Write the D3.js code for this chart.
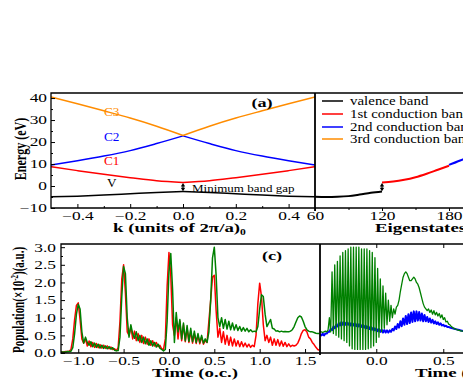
<!DOCTYPE html>
<html>
<head>
<meta charset="utf-8">
<script src="https://cdn.jsdelivr.net/npm/d3@7"></script>
<style>
html, body { margin: 0; padding: 0; background: #fff; }
svg { display: block; font-family: "Liberation Serif", "Times New Roman", serif; }
</style>
</head>
<body>
<div id="chart"></div>
<script>
// ---- panel (a): band structure vs k ----
const kGrid = [-0.5, -0.4, -0.3, -0.2, -0.1, 0, 0.1, 0.2, 0.3, 0.4, 0.5];
const valenceBand = [-4.9, -4.6, -4.1, -3.5, -2.9, -2.5, -2.9, -3.5, -4.1, -4.6, -4.9];
const cond1Band = [8.8, 7.0, 5.3, 3.8, 2.4, 1.6, 2.4, 3.8, 5.3, 7.0, 8.8];
const cond2Band = [9.6, 11.5, 13.6, 16.1, 19.3, 22.8, 19.3, 16.1, 13.6, 11.5, 9.6];
const cond3Band = [40.5, 37.4, 34.2, 30.9, 27.2, 23.0, 27.2, 30.9, 34.2, 37.4, 40.5];

// ---- sorted eigenvalues vs eigenstate index ----
const eigIdxV = [60, 70, 80, 90, 100, 110, 120];
const eigValV = [-4.9, -5.0, -4.9, -4.6, -3.9, -3.1, -2.5];
const eigIdxC1 = [120, 130, 140, 150, 160, 170, 180];
const eigValC1 = [1.6, 2.0, 2.8, 4.0, 5.6, 7.4, 9.2];
const eigIdxC2 = [180, 190, 200];
const eigValC2 = [9.6, 11.6, 13.8];

const energyTicks = [-10, 0, 10, 20, 30, 40];
const kTicks = [-0.4, -0.2, 0.0, 0.2, 0.4];
const eigTicks = [60, 120, 180];

const legendLabels = ["valence band", "1st conduction band", "2nd conduction band", "3rd conduction band"];
const bandColors = ["#000000", "#ff0000", "#0000ff", "#ff8c00"];

// ---- panel (c): populations vs time ----
const tLeftStart = -1.2, tLeftStep = 0.02;
const popRedLeft = [
  0.03, 0.03, 0.03, 0.04, 0.04, 0.05, 0.1, 0.4, 0.95, 1.35,
  1.42, 0.95, 0.4, 0.28, 0.4, 0.2, 0.34, 0.18, 0.3, 0.16,
  0.27, 0.15, 0.24, 0.14, 0.22, 0.13, 0.2, 0.12, 0.17, 0.1,
  0.12, 0.07, 0.15, 0.9, 2.1, 2.5, 1.7, 0.6, 0.5, 0.75,
  0.4, 0.62, 0.35, 0.55, 0.3, 0.5, 0.27, 0.45, 0.25, 0.4,
  0.22, 0.35, 0.2, 0.3, 0.18, 0.22, 0.12, 0.1, 0.4, 1.9,
  2.85, 2.2, 0.8, 0.5, 1.0, 0.4, 0.9, 0.35, 0.8, 0.32,
  0.7, 0.3, 0.62, 0.28, 0.55, 0.27, 0.5, 0.26, 0.45, 0.25,
  0.35, 0.3, 0.9, 1.5, 2.15, 2.2, 1.2, 0.45, 0.7, 0.3,
  0.6, 0.25, 0.5, 0.22, 0.45, 0.2, 0.4, 0.2, 0.35, 0.18,
  0.32, 0.18, 0.28, 0.17, 0.25, 0.16, 0.22, 0.18, 0.5, 1.4,
  1.98, 1.6, 0.8, 0.35, 0.5, 0.3, 0.45, 0.22, 0.4, 0.22,
  0.38, 0.2, 0.34, 0.19, 0.3, 0.18, 0.26, 0.18, 0.22, 0.2,
  0.22, 0.28, 0.4, 0.55, 0.64, 0.66, 0.6, 0.45, 0.4, 0.3,
  0.24, 0.16, 0.1, 0.08
];
const popGreenLeft = [
  0.03, 0.03, 0.03, 0.03, 0.04, 0.04, 0.05, 0.15, 0.55, 1.1,
  1.38, 1.25, 0.6, 0.28, 0.45, 0.3, 0.22, 0.32, 0.18, 0.28,
  0.16, 0.25, 0.14, 0.22, 0.13, 0.2, 0.12, 0.18, 0.11, 0.15,
  0.08, 0.06, 0.07, 0.45, 1.6, 2.45, 2.25, 1.0, 0.45, 0.8,
  0.55, 0.42, 0.6, 0.35, 0.5, 0.3, 0.45, 0.26, 0.4, 0.22,
  0.35, 0.2, 0.3, 0.17, 0.25, 0.14, 0.1, 0.06, 0.1, 0.9,
  2.3, 2.82, 1.8, 0.3, 1.15, 0.6, 0.95, 0.4, 0.85, 0.35,
  0.78, 0.33, 0.7, 0.32, 0.62, 0.3, 0.55, 0.3, 0.5, 0.28,
  0.4, 0.3, 0.6, 1.5, 2.7, 3.0, 2.2, 1.0, 0.75, 1.0,
  0.7, 0.95, 0.68, 0.9, 0.66, 0.85, 0.65, 0.8, 0.64, 0.75,
  0.62, 0.72, 0.62, 0.7, 0.6, 0.66, 0.6, 0.62, 0.6, 0.75,
  1.25, 1.65, 1.6, 1.1, 0.75, 0.85, 0.95, 0.7, 0.68, 0.62,
  0.63, 0.6, 0.62, 0.6, 0.61, 0.6, 0.6, 0.62, 0.66, 0.75,
  0.88, 1.0, 1.05, 1.02, 0.9, 0.75, 0.66, 0.62, 0.6, 0.6,
  0.58, 0.56, 0.55, 0.55
];

const tRightStart = -0.42, tRightStep = 0.01;
const popGreenRight = [
  0.6, 0.6, 0.58, 0.6, 0.62, 0.6, 0.65,
  1.0, 0.6, 2.3, 0.55, 2.5, 0.5, 2.6, 0.45, 2.75, 0.4,
  2.85, 0.35, 2.9, 0.3, 2.95, 0.2, 3.0, 0.12, 3.0, 0.1,
  3.0, 0.1, 3.0, 0.1, 2.95, 0.1, 2.95, 0.1, 2.95, 0.12,
  2.9, 0.15, 2.85, 0.2, 2.7,
  0.3, 2.4, 0.45, 2.1, 0.6, 1.9, 0.7, 1.7, 0.8, 1.5, 0.9, 1.35, 1.0, 1.25, 1.1, 1.3,
  1.35, 1.5, 1.75, 1.95, 2.15, 2.25, 2.3, 2.25, 2.15, 2.05, 2.05, 2.1,
  2.15, 2.1, 2.0, 1.95, 1.85, 1.7, 1.55, 1.4, 1.3, 1.25, 1.2,
  1.25, 1.15, 1.22, 1.1, 1.2, 1.08, 1.15, 1.05, 1.12, 1.0, 1.08, 0.95, 1.0, 0.88,
  0.9, 0.82, 0.8, 0.75, 0.72, 0.7, 0.68, 0.66, 0.65, 0.64, 0.63, 0.62, 0.62, 0.61
];
const popBlueRight = [
  0.52, 0.5, 0.55, 0.5, 0.55, 0.55, 0.6, 0.6, 0.68, 0.65,
  0.75, 0.7, 0.8, 0.75, 0.85, 0.78, 0.88, 0.8, 0.88, 0.8,
  0.87, 0.8, 0.86, 0.78, 0.85, 0.78, 0.84, 0.76, 0.83, 0.75,
  0.82, 0.74, 0.8, 0.72, 0.78, 0.7, 0.76, 0.68, 0.74, 0.66,
  0.72, 0.64, 0.7, 0.62, 0.68, 0.6, 0.66, 0.58, 0.65, 0.58,
  0.64, 0.58, 0.64, 0.6, 0.68, 0.64, 0.75, 0.68, 0.82, 0.72,
  0.9, 0.76, 0.98, 0.8, 1.05, 0.82, 1.1, 0.85, 1.15, 0.88,
  1.18, 0.9, 1.18, 0.92, 1.16, 0.92, 1.12, 0.9, 1.08, 0.9,
  1.02, 0.88, 0.98, 0.86, 0.94, 0.84, 0.9, 0.82, 0.87, 0.8,
  0.84, 0.78, 0.8, 0.76, 0.77, 0.74, 0.74, 0.72, 0.71, 0.7,
  0.69, 0.68, 0.67, 0.66, 0.65, 0.64, 0.63, 0.62, 0.62
];
const popTicks = [0, 0.5, 1.0, 1.5, 2.0, 2.5, 3.0];
const timeTicksLeft = [-1.0, -0.5, 0.0, 0.5, 1.0, 1.5];
const timeTicksRight = [0.0, 0.5];

const W = 463, H = 382;
const SX = 1.45; // the original figure is stretched sideways
const svg = d3.select("#chart").append("svg").attr("width", W).attr("height", H);
svg.append("rect").attr("width", W).attr("height", H).attr("fill", "#fff");

const defs = svg.append("defs");
function clip(id, x, y, w, h) {
    defs.append("clipPath").attr("id", id).append("rect")
        .attr("x", x).attr("y", y).attr("width", w).attr("height", h);
    return `url(#${id})`;
}

// text stretched horizontally around its anchor point
function label(x, y, txt, size, opts = {}) {
    return svg.append("text")
        .attr("transform", `translate(${x},${y}) scale(${opts.sx || SX},1)`)
        .attr("dy", "0.35em")
        .attr("text-anchor", opts.anchor || "start")
        .attr("fill", opts.color || "#000")
        .style("font-size", size + "px")
        .style("font-weight", opts.bold ? "bold" : "normal")
        .text(txt);
}

// ---------- top panel ----------
const topT = 93, topB = 208, topL = 51, split = 315;
const kScale = d3.scaleLinear().domain([-0.5, 0.5]).range([topL, split]);
const eigScale = d3.scaleLinear().domain([60, 240]).range([split, split + 180 * 67 / 60]);
const eScale = d3.scaleLinear().domain([-10, 42.3]).range([topB, topT]);

const clipA = clip("clipA", topL, topT, split - topL, topB - topT);
const clipB = clip("clipB", split, topT, W - split, topB - topT);

const kLine = d3.line().x(d => kScale(d[0])).y(d => eScale(d[1])).curve(d3.curveMonotoneX);
const eigLine = d3.line().x(d => eigScale(d[0])).y(d => eScale(d[1])).curve(d3.curveMonotoneX);

const gA = svg.append("g").attr("clip-path", clipA);
const bands = [valenceBand, cond1Band, cond2Band, cond3Band];
bands.forEach((band, bi) => {
    const pts = kGrid.map((k, i) => [k, band[i]]);
    // draw the two halves so crossings at k = 0 stay sharp
    [pts.filter(p => p[0] <= 0), pts.filter(p => p[0] >= 0)].forEach(half => {
        gA.append("path").datum(half)
            .attr("d", kLine)
            .attr("fill", "none")
            .attr("stroke", bandColors[bi])
            .attr("stroke-width", 1.5);
    });
});

const gB = svg.append("g").attr("clip-path", clipB);
[[eigIdxV, eigValV, 0], [eigIdxC1, eigValC1, 1], [eigIdxC2, eigValC2, 2]].forEach(([idx, val, ci]) => {
    gB.append("path").datum(idx.map((x, i) => [x, val[i]]))
        .attr("d", eigLine)
        .attr("fill", "none")
        .attr("stroke", bandColors[ci])
        .attr("stroke-width", 2);
});

function styleAxis(g) {
    g.select(".domain").remove();
    g.attr("font-family", null);
    g.selectAll("line").attr("stroke", "#000").attr("stroke-width", 1);
    g.selectAll("text").attr("fill", "#000").attr("font-size", 12)
        .attr("transform", `scale(${SX},1)`);
}
function leftLabels(g, gap) {
    g.selectAll("text").attr("x", -gap / SX);
}

svg.append("g").attr("transform", `translate(${topL},0)`)
    .call(d3.axisLeft(eScale).tickValues(energyTicks).tickSize(-4).tickFormat(d3.format("d")))
    .call(styleAxis).call(leftLabels, 4);
svg.append("g").attr("transform", `translate(${topL},0)`)
    .call(d3.axisLeft(eScale).tickValues([-5, 5, 15, 25, 35]).tickSize(-2).tickFormat(""))
    .call(styleAxis);

svg.append("g").attr("transform", `translate(0,${topB})`)
    .call(d3.axisBottom(kScale).tickValues(kTicks).tickSize(-4).tickPadding(3).tickFormat(d3.format(".1f")))
    .call(styleAxis);
svg.append("g").attr("transform", `translate(0,${topB})`)
    .call(d3.axisBottom(kScale).tickValues([-0.3, -0.1, 0.1, 0.3]).tickSize(-2).tickFormat(""))
    .call(styleAxis);
svg.append("g").attr("transform", `translate(0,${topB})`)
    .call(d3.axisBottom(eigScale).tickValues(eigTicks).tickSize(3).tickPadding(0).tickFormat(d3.format("d")))
    .call(styleAxis);
svg.append("g").attr("transform", `translate(0,${topB})`)
    .call(d3.axisBottom(eigScale).tickValues([90, 150, 210]).tickSize(2).tickFormat(""))
    .call(styleAxis);

// frame of top panel
const frame = svg.append("g").attr("fill", "none").attr("stroke", "#000");
frame.append("path").attr("d", `M${W + 5},${topT}H${topL}V${topB}H${W + 5}`).attr("stroke-width", 1.3);
frame.append("line").attr("x1", split).attr("x2", split).attr("y1", topT).attr("y2", topB + 3).attr("stroke-width", 1.8);

// band labels
const bandLabels = [["C3", 33.5, 3], ["C2", 22.5, 2], ["C1", 11.3, 1], ["V", 1.5, 0]];
bandLabels.forEach(([txt, e, ci]) => {
    label(kScale(-0.27), eScale(e), txt, 11.5, { anchor: "middle", color: bandColors[ci], sx: 1.15 });
});

label(262, 102, "(a)", 13, { anchor: "middle", bold: true, sx: 1.4 });

// double arrows marking the minimum band gap
function gapArrow(x, eTop, eBot) {
    const y1 = eScale(eTop), y2 = eScale(eBot);
    const g = svg.append("g");
    g.append("line").attr("x1", x).attr("x2", x).attr("y1", y1 + 2).attr("y2", y2 - 2)
        .attr("stroke", "#000").attr("stroke-width", 1.2);
    g.append("path").attr("d", `M${x - 2.2},${y1 + 3.5}L${x},${y1}L${x + 2.2},${y1 + 3.5}Z`).attr("fill", "#000");
    g.append("path").attr("d", `M${x - 2.2},${y2 - 3.5}L${x},${y2}L${x + 2.2},${y2 - 3.5}Z`).attr("fill", "#000");
}
gapArrow(kScale(0), cond1Band[5] - 0.2, valenceBand[5] + 0.1);
gapArrow(eigScale(120), eigValC1[0] - 0.2, eigValV[6] + 0.1);

label(192, 188, "Minimum band gap", 10, { sx: 1.3 });

// legend
legendLabels.forEach((lbl, i) => {
    const y = [101, 114, 127, 139][i];
    svg.append("line").attr("x1", 322).attr("x2", 343).attr("y1", y).attr("y2", y)
        .attr("stroke", bandColors[i]).attr("stroke-width", 1.5);
    label(350, y, lbl, 11.5, { sx: 1.3 });
});

// axis titles of top panel
svg.append("text").attr("transform", `translate(20,149) scale(${SX},1) rotate(-90)`)
    .attr("dy", "0.35em").attr("text-anchor", "middle")
    .style("font-size", "12px").style("font-weight", "bold")
    .text("Energy (eV)");
const kTitle = svg.append("text").attr("transform", `translate(113,232) scale(${SX},1)`)
    .style("font-size", "13px").style("font-weight", "bold");
kTitle.append("tspan").text("k (units of 2\u03c0/a)");
kTitle.append("tspan").attr("dy", 3).style("font-size", "8px").text("0");
svg.append("text").attr("transform", `translate(375,232) scale(${SX},1)`)
    .style("font-size", "13px").style("font-weight", "bold").text("Eigenstates");

// ---------- bottom panel ----------
const botT = 244, botB = 353, botL = 61, split2 = 320;
const tScaleL = d3.scaleLinear().domain([-1.19, 1.665]).range([botL, split2]);
const tScaleR = d3.scaleLinear().domain([-0.42, 0.66]).range([split2, split2 + 1.08 * 134]);
const pScale = d3.scaleLinear().domain([0, 3.09]).range([botB, botT]);

const clipC = clip("clipC", botL, botT, split2 - botL, botB - botT);
const clipD = clip("clipD", split2, botT, W - split2, botB - botT);

const lineL = d3.line().x(d => tScaleL(d[0])).y(d => pScale(d[1]));
const lineR = d3.line().x(d => tScaleR(d[0])).y(d => pScale(d[1]));

const gC = svg.append("g").attr("clip-path", clipC);
[[popRedLeft, "#ff0000"], [popGreenLeft, "#008000"]].forEach(([vals, col]) => {
    gC.append("path").datum(vals.map((v, i) => [tLeftStart + i * tLeftStep, v]))
        .attr("d", lineL).attr("fill", "none").attr("stroke", col).attr("stroke-width", 1.5)
        .attr("stroke-linejoin", "round");
});
const gD = svg.append("g").attr("clip-path", clipD);
[[popBlueRight, "#0000ff", 2], [popGreenRight, "#008000", 1.3]].forEach(([vals, col, sw]) => {
    gD.append("path").datum(vals.map((v, i) => [tRightStart + i * tRightStep, v]))
        .attr("d", lineR).attr("fill", "none").attr("stroke", col).attr("stroke-width", sw)
        .attr("stroke-linejoin", "round");
});

svg.append("g").attr("transform", `translate(${botL},0)`)
    .call(d3.axisLeft(pScale).tickValues(popTicks).tickSize(-4).tickFormat(d3.format(".1f")))
    .call(styleAxis).call(leftLabels, 5);
svg.append("g").attr("transform", `translate(${botL},0)`)
    .call(d3.axisLeft(pScale).tickValues([0.25, 0.75, 1.25, 1.75, 2.25, 2.75]).tickSize(-2).tickFormat(""))
    .call(styleAxis);
svg.append("g").attr("transform", `translate(0,${botB})`)
    .call(d3.axisBottom(tScaleL).tickValues(timeTicksLeft).tickSize(-4).tickPadding(3).tickFormat(d3.format(".1f")))
    .call(styleAxis);
svg.append("g").attr("transform", `translate(0,${botB})`)
    .call(d3.axisBottom(tScaleR).tickValues(timeTicksRight).tickSize(-4).tickPadding(3).tickFormat(d3.format(".1f")))
    .call(styleAxis);
svg.append("g").attr("transform", `translate(0,${botT})`)
    .call(d3.axisTop(tScaleR).tickValues(timeTicksRight).tickSize(-4).tickFormat(""))
    .call(styleAxis);

const frame2 = svg.append("g").attr("fill", "none").attr("stroke", "#000");
frame2.append("path").attr("d", `M${W + 5},${botT}H${botL}V${botB}H${W + 5}`).attr("stroke-width", 1.3);
frame2.append("line").attr("x1", split2).attr("x2", split2).attr("y1", botT).attr("y2", botB + 2).attr("stroke-width", 1.8);

label(272, 255, "(c)", 13, { anchor: "middle", bold: true, sx: 1.4 });

const popTitle = svg.append("text").attr("transform", `translate(18,300) scale(${SX},1) rotate(-90)`)
    .attr("dy", "0.35em").attr("text-anchor", "middle")
    .style("font-size", "11px").style("font-weight", "bold");
popTitle.append("tspan").text("Population(\u00d710");
popTitle.append("tspan").attr("dy", -4).style("font-size", "7px").text("-2");
popTitle.append("tspan").attr("dy", 4).text(")(a.u.)");

svg.append("text").attr("transform", `translate(195,377) scale(${SX},1)`).attr("text-anchor", "middle")
    .style("font-size", "13px").style("font-weight", "bold").text("Time (o.c.)");
svg.append("text").attr("transform", `translate(415,377) scale(${SX},1)`)
    .style("font-size", "13px").style("font-weight", "bold").text("Time (o.c.)");
</script>
</body>
</html>
